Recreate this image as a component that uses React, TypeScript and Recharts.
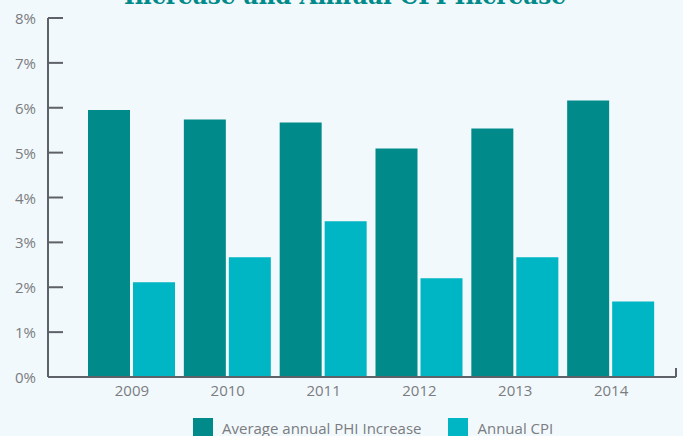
import React from 'react';
import { BarChart, Bar, XAxis, YAxis } from 'recharts';

const years = ['2009', '2010', '2011', '2012', '2013', '2014'];
const phiIncrease = [5.95, 5.74, 5.67, 5.09, 5.54, 6.16];
const annualCpi = [2.11, 2.67, 3.47, 2.2, 2.67, 1.68];
const yTicks = [0, 1, 2, 3, 4, 5, 6, 7, 8];

const PHI_COLOR = '#008b8a';
const CPI_COLOR = '#00b5c4';
const AXIS_COLOR = '#5e6167';
const TEXT_COLOR = '#7a7c80';
const FONT = '"Open Sans", "Noto Sans", sans-serif';

const data = years.map((year, i) => ({
  year,
  phi: phiIncrease[i],
  cpi: annualCpi[i],
}));

const YTick = (props: any) => {
  const { x, y, payload } = props;
  return (
    <g>
      <line x1={x} x2={x + 15} y1={y} y2={y} stroke={AXIS_COLOR} strokeWidth={2} />
      <text
        x={x - 12}
        y={y}
        textAnchor="end"
        dominantBaseline="central"
        fill={TEXT_COLOR}
        fontSize={15}
        fontFamily={FONT}
      >
        {payload.value}%
      </text>
    </g>
  );
};

const legendItems = [
  { label: 'Average annual PHI Increase', color: PHI_COLOR },
  { label: 'Annual CPI', color: CPI_COLOR },
];

export default function App() {
  return (
    <div
      style={{
        position: 'absolute',
        left: 0,
        top: 0,
        width: 683,
        height: 436,
        background: '#f2f9fc',
        overflow: 'hidden',
      }}
    >
      <svg width={683} height={20} style={{ position: 'absolute', left: 0, top: 0 }}>
        <text
          x={345}
          y={4}
          textAnchor="middle"
          fill={PHI_COLOR}
          fontSize={24}
          fontWeight="bold"
          fontFamily='"DejaVu Serif", serif'
          textLength={442}
          lengthAdjust="spacingAndGlyphs"
        >
          Increase and Annual CPI Increase
        </text>
      </svg>
      <BarChart
        width={683}
        height={436}
        data={data}
        margin={{ top: 18, right: 7, bottom: 29, left: 0 }}
        barCategoryGap={4}
        barGap={3}
      >
        <XAxis
          dataKey="year"
          padding={{ left: 36, right: 17 }}
          axisLine={{ stroke: AXIS_COLOR, strokeWidth: 2 }}
          tickLine={false}
          tickSize={0}
          tickMargin={8}
          height={30}
          tick={{ fill: TEXT_COLOR, fontSize: 15, fontFamily: FONT }}
        />
        <YAxis
          domain={[0, 8]}
          ticks={yTicks}
          width={48}
          axisLine={{ stroke: AXIS_COLOR, strokeWidth: 2 }}
          tickLine={false}
          tickSize={0}
          tickMargin={0}
          tick={<YTick />}
          interval={0}
        />
        <Bar dataKey="phi" fill={PHI_COLOR} isAnimationActive={false} />
        <Bar dataKey="cpi" fill={CPI_COLOR} isAnimationActive={false} />
      </BarChart>
      <div
        style={{
          position: 'absolute',
          left: 675,
          top: 368,
          width: 2,
          height: 9,
          background: AXIS_COLOR,
        }}
      />
      <div
        style={{
          position: 'absolute',
          left: 193,
          top: 418,
          display: 'flex',
          alignItems: 'center',
          fontFamily: FONT,
          fontSize: 15,
          color: TEXT_COLOR,
          whiteSpace: 'nowrap',
        }}
      >
        {legendItems.map((item, i) => (
          <div
            key={item.label}
            style={{ display: 'flex', alignItems: 'center', marginRight: i === 0 ? 27 : 0 }}
          >
            <div style={{ width: 20, height: 20, background: item.color, marginRight: 9 }} />
            <span>{item.label}</span>
          </div>
        ))}
      </div>
    </div>
  );
}
